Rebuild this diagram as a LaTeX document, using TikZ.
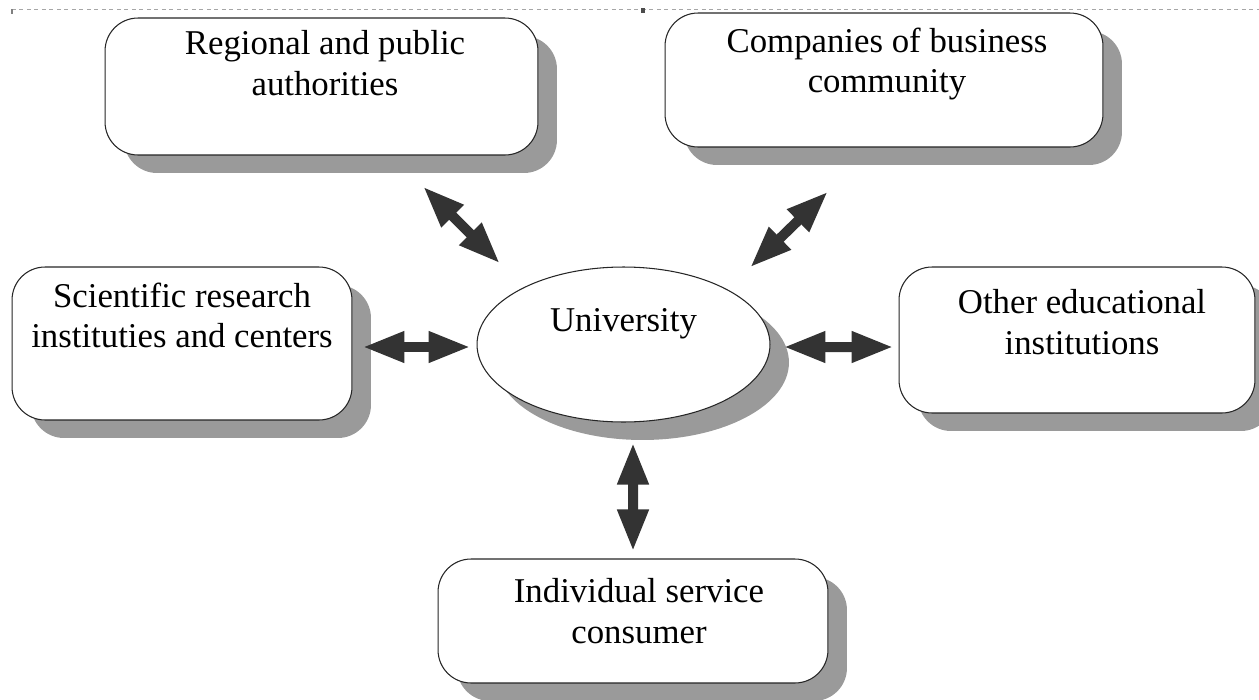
\documentclass[tikz,border=0pt]{standalone}
\usepackage{fontspec}
\setmainfont{Liberation Serif}
\usetikzlibrary{shapes.geometric,shadows,arrows.meta,calc}

\definecolor{arrowgray}{HTML}{333333}
\definecolor{shadowgray}{HTML}{9A9A9A}

\tikzset{
  shadowed/.style={draw=black!85, line width=0.6pt, fill=white,
    drop shadow={shadow xshift=0.38cm, shadow yshift=-0.36cm, fill=shadowgray, opacity=1}},
  box/.style={shadowed, rounded corners=0.66cm},
  txt/.style={align=center, inner sep=0pt, anchor=north, font=\fontsize{19.8}{22.8}\selectfont},
  biarrow/.style={draw=arrowgray, line width=0.2cm,
    {Triangle[width=0.58cm,length=0.84cm]}-{Triangle[width=0.58cm,length=0.84cm]}}
}

\begin{document}
\begin{tikzpicture}[x=0.02cm,y=-0.02cm]
\useasboundingbox (0,0) rectangle (1259,700);

\draw [gray!70, thin, dash pattern=on 0.08cm off 0.07cm] (12,9.5) -- (1259,9.5);
\draw [gray, line width=0.04cm] (12,9) -- (12,14);
\fill [black!70] (641,8) rectangle (645,13);

\node[box, minimum width=8.66cm, minimum height=2.74cm] (reg) at (321.5,86.5) {};
\node[box, minimum width=8.76cm, minimum height=2.68cm] (comp) at (884,80) {};
\node[box, minimum width=6.8cm, minimum height=3.06cm] (sci) at (182,343.5) {};
\node[box, minimum width=7.12cm, minimum height=2.92cm] (oth) at (1077,340) {};
\node[box, minimum width=7.8cm, minimum height=2.48cm] (ind) at (633,621) {};
\node[shadowed, ellipse, minimum width=5.86cm, minimum height=3.1cm, inner sep=0pt] (uni) at (623.5,344.5) {};

\node[txt] (reg-t) at ($(reg.north)+(3.5,13)$) {Regional and public\\authorities};
\node[txt] (comp-t) at ($(comp.north)+(3,15)$) {Companies of business\\community};
\node[txt] (sci-t) at ($(sci.north)+(0,16)$) {Scientific research\\instituties and centers};
\node[txt] (oth-t) at ($(oth.north)+(5,23)$) {Other educational\\institutions};
\node[txt] (ind-t) at ($(ind.north)+(6,20)$) {Individual service\\consumer};
\node[txt] (uni-t) at ($(uni.north)+(0,42)$) {University};

\draw[biarrow] ($(reg.south)+(101.5,31)$) -- ($(uni.north)+(-123.5,-3)$);
\draw[biarrow] ($(comp.south)+(-56,44)$) -- ($(uni.north)+(126.5,1)$);
\draw[biarrow] ($(sci.east)+(10,3.5)$) -- ($(uni.west)+(-6,2.5)$);
\draw[biarrow] ($(uni.east)+(13,2.5)$) -- ($(oth.west)+(-5,7)$);
\draw[biarrow] ($(uni.south)+(9.5,20)$) -- ($(ind.north)+(0,-7)$);

\end{tikzpicture}
\end{document}
